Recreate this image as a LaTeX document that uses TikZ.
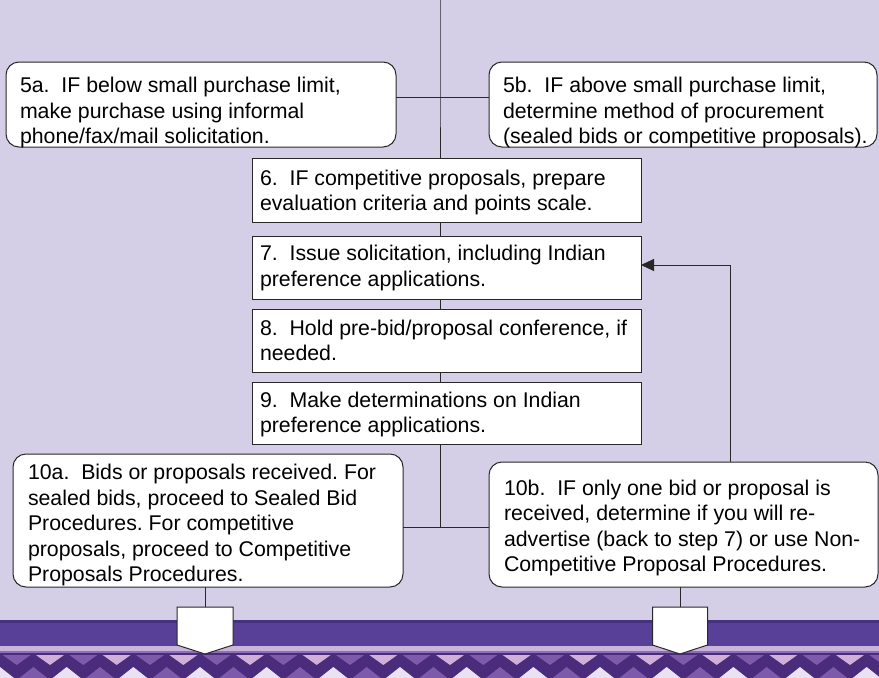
\documentclass[tikz,border=0pt]{standalone}
\usepackage{fontspec}
\setmainfont{Liberation Sans}
\usetikzlibrary{arrows.meta}
\frenchspacing
\definecolor{bgc}{RGB}{212,207,230}
\definecolor{bandc}{RGB}{88,64,152}
\definecolor{bandedge}{RGB}{70,48,128}
\definecolor{stripec}{RGB}{201,180,219}
\definecolor{thinc}{RGB}{140,110,185}
\definecolor{zzdark}{RGB}{74,43,124}
\definecolor{zzmed}{RGB}{125,90,170}
\definecolor{zzpink}{RGB}{208,176,216}
\definecolor{zzwhite}{RGB}{234,226,242}
\definecolor{linec}{RGB}{40,40,40}
\newcommand\boxtxt[5]{\parbox[c][#2][t]{#1}{\vspace*{\dimexpr#4-17pt\relax}\hspace*{#3}\parbox[t]{600pt}{\frenchspacing\vrule height17pt width0pt\relax #5}}}
\tikzset{
  every node/.style={font=\fontsize{21.3pt}{25.5pt}\selectfont},
  flatbox/.style={draw=linec, fill=white, line width=1pt, inner sep=0pt, outer sep=0pt, anchor=north west},
  roundbox/.style={flatbox, rounded corners=13pt},
  conn/.style={draw=linec, line width=1pt},
  pent/.style={draw=linec, fill=white, line width=1pt, line join=miter},
}
\begin{document}
\begin{tikzpicture}[x=1pt,y=-1pt]
\useasboundingbox (0,0) rectangle (879,678);
\fill[bgc] (0,0) rectangle (879,678);
% bottom band
\fill[bandc] (0,620) rectangle (879,646);
\fill[bandedge] (0,620) rectangle (879,622.5);
\fill[stripec] (0,646) rectangle (879,651);
\fill[thinc] (0,651) rectangle (879,653);
\fill[zzdark] (0,653) rectangle (879,678);
\foreach \k in {0,2,...,26} {
  \fill[zzmed] ({16.667+33.333*\k-14},655) -- ({16.667+33.333*\k+14},655) -- ({16.667+33.333*\k},665) -- cycle;
}
\foreach \k in {1,3,...,27} {
  \fill[zzpink] ({16.667+33.333*\k-14},655) -- ({16.667+33.333*\k+14},655) -- ({16.667+33.333*\k},665) -- cycle;
}
\foreach \k in {0,2,...,26} {
  \fill[zzwhite] ({33.333*\k-14},678) -- ({33.333*\k+14},678) -- ({33.333*\k},667) -- cycle;
}
\foreach \k in {1,3,...,27} {
  \fill[zzmed] ({33.333*\k-14},678) -- ({33.333*\k+14},678) -- ({33.333*\k},667) -- cycle;
}

% nodes
\node[roundbox] (a5) at (6,62) {\boxtxt{390pt}{85pt}{14pt}{30.7pt}{5a.\ \ IF below small purchase limit,\\make purchase using informal\\phone/fax/mail solicitation.}};
\node[roundbox] (b5) at (489,62) {\boxtxt{388pt}{85pt}{14pt}{30.7pt}{5b.\ \ IF above small purchase limit,\\determine method of procurement\\(sealed bids or competitive proposals).}};
\node[flatbox] (b6) at (252,158.3) {\boxtxt{389pt}{64pt}{8pt}{26.7pt}{6.\ \ IF competitive proposals, prepare\\evaluation criteria and points scale.}};
\node[flatbox] (b7) at (252,236.7) {\boxtxt{389pt}{62.6pt}{8pt}{24pt}{7.\ \ Issue solicitation, including Indian\\preference applications.}};
\node[flatbox] (b8) at (252,309.3) {\boxtxt{389pt}{63pt}{8pt}{25.7pt}{8.\ \ Hold pre-bid/proposal conference, if\\needed.}};
\node[flatbox] (b9) at (252,382.3) {\boxtxt{389pt}{61.7pt}{8pt}{25pt}{9.\ \ Make determinations on Indian\\preference applications.}};
\node[roundbox] (a10) at (13,454) {\boxtxt{390pt}{133pt}{15pt}{25.5pt}{10a.\ \ Bids or proposals received. For\\sealed bids, proceed to Sealed Bid\\Procedures. For competitive\\proposals, proceed to Competitive\\Proposals Procedures.}};
\node[roundbox] (b10) at (489,462) {\boxtxt{389pt}{125pt}{15pt}{33pt}{10b.\ \ IF only one bid or proposal is\\received, determine if you will re-\\advertise (back to step 7) or use Non-\\Competitive Proposal Procedures.}};

% coordinates
\coordinate (top) at (440,0);
\coordinate (j5) at (440,97.5);
\coordinate (j10) at (440,527);
\coordinate (fb) at (730,265);
\coordinate (pa) at (205,607);
\coordinate (pb) at (680,607);

% connectors
\draw[conn] (top) -- (j5) -- (j5 |- b6.north);
\draw[conn] (a5.east |- j5) -- (b5.west |- j5);
\draw[conn] (j5 |- b6.south) -- (j5 |- b7.north);
\draw[conn] (j5 |- b7.south) -- (j5 |- b8.north);
\draw[conn] (j5 |- b8.south) -- (j5 |- b9.north);
\draw[conn] (j5 |- b9.south) -- (j10);
\draw[conn] (a10.east |- j10) -- (b10.west |- j10);
\draw[conn, -{Triangle[length=13pt,width=12pt]}] (b10.north -| fb) -- (fb) -- (fb -| b7.east);
\draw[conn] (a10.south -| pa) -- (pa);
\draw[conn] (b10.south -| pb) -- (pb);
\draw[pent] (pa) ++(-28,0) -- ++(56,0) -- ++(0,38) -- ++(-28,9) -- ++(-28,-9) -- cycle;
\draw[pent] (pb) ++(-27.5,0) -- ++(55,0) -- ++(0,38) -- ++(-27.5,9) -- ++(-27.5,-9) -- cycle;
\end{tikzpicture}
\end{document}
